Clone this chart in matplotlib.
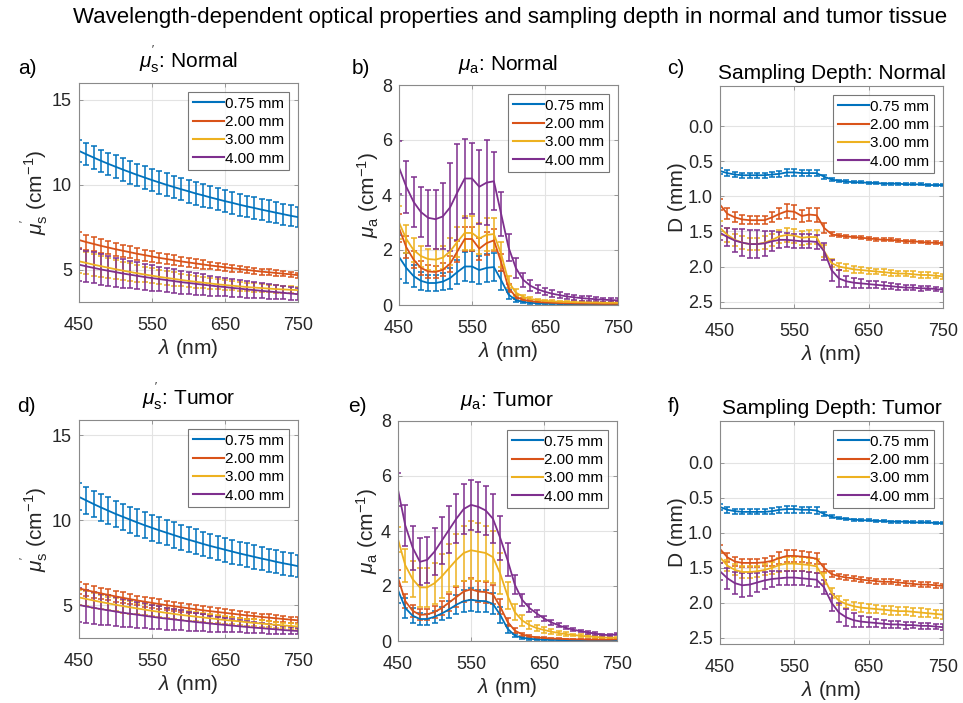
import matplotlib
matplotlib.use('Agg')
import matplotlib.pyplot as plt
from matplotlib.lines import Line2D

plt.rcParams['font.family'] = ['Liberation Sans', 'DejaVu Sans']
plt.rcParams['mathtext.fontset'] = 'custom'
plt.rcParams['mathtext.rm'] = 'Liberation Sans'
plt.rcParams['mathtext.it'] = 'Liberation Sans:italic'
plt.rcParams['mathtext.bf'] = 'Liberation Sans:bold'

# ---------------- data ----------------
wavelength = [450, 460, 470, 480, 490, 500, 510, 520, 530, 540, 550, 560, 570, 580, 590, 600,
              610, 620, 630, 640, 650, 660, 670, 680, 690, 700, 710, 720, 730, 740, 750]
series_labels = ['0.75 mm', '2.00 mm', '3.00 mm', '4.00 mm']
series_colors = ['#0072BD', '#D95319', '#EDB120', '#7E2F8E']

# a) mu_s' normal
musp_n_075 = [12.00, 11.80, 11.61, 11.42, 11.24, 11.07, 10.90, 10.74, 10.58, 10.43, 10.28, 10.14, 10.00, 9.87, 9.74, 9.62,
              9.49, 9.38, 9.26, 9.15, 9.04, 8.94, 8.83, 8.73, 8.64, 8.54, 8.45, 8.36, 8.27, 8.18, 8.10]
musp_n_075_sd = [0.64, 0.64, 0.65, 0.65, 0.66, 0.66, 0.66, 0.67, 0.67, 0.67, 0.67, 0.67, 0.67, 0.67, 0.66, 0.66,
                 0.66, 0.66, 0.65, 0.65, 0.65, 0.64, 0.64, 0.64, 0.63, 0.63, 0.63, 0.62, 0.62, 0.62, 0.61]
musp_n_200 = [6.75, 6.63, 6.52, 6.41, 6.31, 6.21, 6.12, 6.03, 5.94, 5.86, 5.78, 5.70, 5.63, 5.56, 5.49, 5.43,
              5.37, 5.31, 5.25, 5.20, 5.14, 5.09, 5.04, 4.99, 4.94, 4.89, 4.85, 4.81, 4.77, 4.73, 4.68]
musp_n_200_sd = [0.45, 0.44, 0.42, 0.41, 0.39, 0.38, 0.36, 0.35, 0.34, 0.33, 0.31, 0.30, 0.29, 0.28, 0.27, 0.26,
                 0.25, 0.24, 0.23, 0.22, 0.21, 0.21, 0.20, 0.19, 0.18, 0.18, 0.17, 0.17, 0.16, 0.16, 0.15]
musp_n_300 = [5.50, 5.40, 5.30, 5.21, 5.12, 5.03, 4.95, 4.87, 4.79, 4.72, 4.65, 4.58, 4.52, 4.46, 4.40, 4.34,
              4.29, 4.24, 4.19, 4.14, 4.10, 4.06, 4.02, 3.98, 3.95, 3.92, 3.89, 3.86, 3.84, 3.82, 3.80]
musp_n_300_sd = [0.70, 0.67, 0.64, 0.61, 0.58, 0.56, 0.53, 0.51, 0.49, 0.47, 0.45, 0.43, 0.41, 0.39, 0.37, 0.36,
                 0.34, 0.33, 0.31, 0.30, 0.29, 0.28, 0.27, 0.26, 0.25, 0.24, 0.23, 0.22, 0.21, 0.21, 0.20]
musp_n_400 = [5.30, 5.20, 5.11, 5.02, 4.94, 4.86, 4.78, 4.71, 4.64, 4.57, 4.51, 4.45, 4.39, 4.33, 4.27, 4.22,
              4.17, 4.12, 4.07, 4.02, 3.98, 3.93, 3.89, 3.84, 3.80, 3.76, 3.72, 3.68, 3.64, 3.60, 3.56]
musp_n_400_sd = [0.95, 0.93, 0.91, 0.89, 0.87, 0.85, 0.83, 0.81, 0.79, 0.77, 0.75, 0.73, 0.71, 0.69, 0.67, 0.65,
                 0.63, 0.61, 0.59, 0.57, 0.55, 0.53, 0.51, 0.49, 0.47, 0.45, 0.43, 0.41, 0.39, 0.37, 0.35]

# b) mu_a normal
mua_n_075 = [1.75, 1.35, 1.05, 0.88, 0.80, 0.80, 0.85, 0.98, 1.20, 1.40, 1.40, 1.27, 1.35, 1.38, 0.90, 0.38,
             0.18, 0.11, 0.08, 0.06, 0.05, 0.045, 0.04, 0.035, 0.03, 0.03, 0.025, 0.025, 0.02, 0.02, 0.02]
mua_n_075_sd = [0.80, 0.55, 0.40, 0.33, 0.30, 0.30, 0.32, 0.38, 0.45, 0.52, 0.55, 0.50, 0.52, 0.50, 0.35, 0.15,
                0.07, 0.04, 0.03, 0.02, 0.02, 0.02, 0.02, 0.015, 0.015, 0.015, 0.015, 0.015, 0.015, 0.015, 0.015]
mua_n_200 = [2.80, 2.10, 1.65, 1.35, 1.22, 1.20, 1.28, 1.50, 1.95, 2.40, 2.40, 2.05, 2.25, 2.35, 1.55, 0.62,
             0.30, 0.19, 0.14, 0.11, 0.09, 0.08, 0.07, 0.06, 0.055, 0.05, 0.05, 0.045, 0.04, 0.04, 0.04]
mua_n_200_sd = [0.50, 0.40, 0.32, 0.26, 0.23, 0.22, 0.24, 0.30, 0.38, 0.45, 0.45, 0.40, 0.42, 0.40, 0.30, 0.15,
                0.08, 0.05, 0.04, 0.03, 0.03, 0.02, 0.02, 0.02, 0.02, 0.02, 0.02, 0.02, 0.02, 0.02, 0.02]
mua_n_300 = [3.00, 2.40, 2.00, 1.78, 1.67, 1.65, 1.72, 1.95, 2.30, 2.62, 2.62, 2.42, 2.55, 2.58, 1.85, 0.85,
             0.45, 0.30, 0.22, 0.18, 0.15, 0.13, 0.12, 0.11, 0.10, 0.10, 0.09, 0.09, 0.08, 0.08, 0.08]
mua_n_300_sd = [0.60, 0.50, 0.42, 0.38, 0.38, 0.40, 0.42, 0.48, 0.55, 0.62, 0.62, 0.58, 0.60, 0.58, 0.45, 0.22,
                0.12, 0.08, 0.06, 0.05, 0.04, 0.04, 0.04, 0.03, 0.03, 0.03, 0.03, 0.03, 0.03, 0.03, 0.03]
mua_n_400 = [5.00, 4.30, 3.75, 3.38, 3.17, 3.12, 3.22, 3.55, 4.10, 4.60, 4.60, 4.30, 4.45, 4.50, 3.30, 2.10,
             1.35, 0.92, 0.70, 0.57, 0.48, 0.41, 0.36, 0.31, 0.28, 0.25, 0.23, 0.21, 0.19, 0.18, 0.17]
mua_n_400_sd = [0.95, 0.95, 0.90, 0.92, 1.02, 1.08, 1.20, 1.60, 1.75, 1.45, 1.30, 1.35, 1.55, 1.05, 0.80, 0.50,
                0.35, 0.25, 0.20, 0.15, 0.13, 0.12, 0.11, 0.10, 0.09, 0.09, 0.08, 0.08, 0.07, 0.07, 0.07]

# c) sampling depth normal
depth_n_075 = [0.64, 0.67, 0.69, 0.70, 0.70, 0.70, 0.70, 0.69, 0.68, 0.66, 0.66, 0.67, 0.67, 0.67, 0.72, 0.76,
               0.78, 0.79, 0.80, 0.80, 0.81, 0.81, 0.82, 0.82, 0.82, 0.83, 0.83, 0.83, 0.84, 0.84, 0.84]
depth_n_075_sd = [0.04, 0.04, 0.035, 0.035, 0.035, 0.035, 0.035, 0.04, 0.045, 0.05, 0.05, 0.045, 0.045, 0.045, 0.03, 0.02,
                  0.015, 0.015, 0.015, 0.015, 0.015, 0.015, 0.015, 0.015, 0.015, 0.015, 0.015, 0.015, 0.015, 0.015, 0.015]
depth_n_200 = [1.12, 1.25, 1.30, 1.33, 1.34, 1.34, 1.34, 1.30, 1.25, 1.21, 1.22, 1.28, 1.26, 1.27, 1.45, 1.54,
               1.56, 1.57, 1.58, 1.59, 1.60, 1.61, 1.62, 1.62, 1.63, 1.64, 1.64, 1.65, 1.66, 1.66, 1.67]
depth_n_200_sd = [0.08, 0.08, 0.07, 0.06, 0.06, 0.06, 0.06, 0.07, 0.08, 0.10, 0.10, 0.09, 0.09, 0.10, 0.07, 0.03,
                  0.02, 0.02, 0.02, 0.02, 0.02, 0.02, 0.02, 0.02, 0.02, 0.02, 0.02, 0.02, 0.02, 0.02, 0.02]
depth_n_300 = [1.45, 1.55, 1.62, 1.66, 1.68, 1.68, 1.66, 1.62, 1.57, 1.55, 1.56, 1.59, 1.58, 1.58, 1.78, 1.95,
               2.00, 2.02, 2.04, 2.05, 2.06, 2.07, 2.08, 2.09, 2.10, 2.10, 2.11, 2.12, 2.12, 2.13, 2.14]
depth_n_300_sd = [0.10, 0.10, 0.09, 0.09, 0.09, 0.09, 0.09, 0.09, 0.09, 0.10, 0.10, 0.10, 0.10, 0.10, 0.08, 0.06,
                  0.05, 0.05, 0.05, 0.045, 0.045, 0.04, 0.04, 0.04, 0.04, 0.04, 0.04, 0.04, 0.04, 0.04, 0.04]
depth_n_400 = [1.52, 1.58, 1.63, 1.66, 1.68, 1.68, 1.67, 1.64, 1.62, 1.62, 1.63, 1.64, 1.64, 1.65, 1.78, 2.05,
               2.17, 2.21, 2.23, 2.24, 2.25, 2.26, 2.27, 2.28, 2.29, 2.30, 2.30, 2.31, 2.31, 2.32, 2.33]
depth_n_400_sd = [0.10, 0.13, 0.16, 0.19, 0.20, 0.20, 0.18, 0.14, 0.11, 0.10, 0.10, 0.10, 0.10, 0.10, 0.12, 0.15,
                  0.12, 0.08, 0.07, 0.06, 0.05, 0.05, 0.05, 0.04, 0.04, 0.04, 0.04, 0.04, 0.03, 0.03, 0.03]

# d) mu_s' tumor
musp_t_075 = [11.37, 11.16, 10.95, 10.75, 10.56, 10.37, 10.20, 10.03, 9.86, 9.70, 9.55, 9.40, 9.26, 9.12, 8.98, 8.85,
              8.73, 8.60, 8.48, 8.37, 8.26, 8.15, 8.04, 7.94, 7.84, 7.74, 7.65, 7.55, 7.46, 7.38, 7.29]
musp_t_075_sd = [0.80, 0.80, 0.79, 0.79, 0.78, 0.78, 0.78, 0.77, 0.77, 0.77, 0.76, 0.76, 0.75, 0.75, 0.74, 0.74,
                 0.73, 0.73, 0.72, 0.72, 0.71, 0.71, 0.70, 0.70, 0.69, 0.69, 0.68, 0.67, 0.67, 0.66, 0.65]
musp_t_200 = [5.98, 5.88, 5.78, 5.69, 5.60, 5.51, 5.43, 5.35, 5.27, 5.20, 5.13, 5.06, 4.99, 4.93, 4.87, 4.81,
              4.75, 4.69, 4.64, 4.59, 4.54, 4.49, 4.44, 4.39, 4.35, 4.30, 4.26, 4.22, 4.18, 4.14, 4.10]
musp_t_200_sd = [0.35, 0.34, 0.34, 0.33, 0.32, 0.31, 0.31, 0.30, 0.29, 0.29, 0.28, 0.27, 0.27, 0.26, 0.25, 0.25,
                 0.24, 0.24, 0.23, 0.23, 0.22, 0.22, 0.21, 0.21, 0.20, 0.20, 0.19, 0.19, 0.19, 0.18, 0.18]
musp_t_300 = [5.45, 5.36, 5.27, 5.18, 5.10, 5.02, 4.94, 4.87, 4.80, 4.73, 4.66, 4.60, 4.54, 4.48, 4.42, 4.37,
              4.32, 4.27, 4.22, 4.17, 4.12, 4.08, 4.04, 3.99, 3.95, 3.91, 3.87, 3.84, 3.80, 3.77, 3.73]
musp_t_300_sd = [0.45, 0.44, 0.43, 0.41, 0.40, 0.39, 0.38, 0.37, 0.35, 0.34, 0.33, 0.32, 0.31, 0.30, 0.29, 0.28,
                 0.27, 0.26, 0.25, 0.24, 0.23, 0.22, 0.21, 0.20, 0.20, 0.19, 0.18, 0.17, 0.17, 0.16, 0.15]
musp_t_400 = [5.00, 4.92, 4.84, 4.76, 4.69, 4.62, 4.55, 4.49, 4.43, 4.37, 4.31, 4.25, 4.20, 4.15, 4.10, 4.05,
              4.00, 3.96, 3.91, 3.87, 3.83, 3.79, 3.75, 3.71, 3.67, 3.64, 3.60, 3.57, 3.53, 3.50, 3.47]
musp_t_400_sd = [1.00, 0.98, 0.95, 0.92, 0.89, 0.86, 0.83, 0.80, 0.77, 0.74, 0.71, 0.68, 0.65, 0.62, 0.59, 0.56,
                 0.53, 0.50, 0.47, 0.44, 0.41, 0.38, 0.36, 0.34, 0.32, 0.30, 0.28, 0.26, 0.24, 0.22, 0.20]

# e) mu_a tumor
mua_t_075 = [1.85, 1.20, 0.92, 0.80, 0.80, 0.88, 1.00, 1.15, 1.32, 1.45, 1.50, 1.46, 1.45, 1.35, 0.95, 0.45,
             0.20, 0.12, 0.08, 0.06, 0.05, 0.04, 0.035, 0.03, 0.03, 0.025, 0.025, 0.02, 0.02, 0.02, 0.02]
mua_t_075_sd = [0.45, 0.35, 0.28, 0.22, 0.20, 0.22, 0.25, 0.30, 0.35, 0.40, 0.42, 0.40, 0.40, 0.38, 0.30, 0.15,
                0.07, 0.04, 0.03, 0.02, 0.02, 0.02, 0.02, 0.02, 0.02, 0.02, 0.02, 0.02, 0.02, 0.02, 0.02]
mua_t_200 = [2.30, 1.45, 1.10, 0.95, 0.97, 1.05, 1.20, 1.40, 1.60, 1.80, 1.88, 1.80, 1.78, 1.70, 1.25, 0.70,
             0.38, 0.24, 0.17, 0.13, 0.11, 0.09, 0.08, 0.07, 0.06, 0.06, 0.05, 0.05, 0.05, 0.05, 0.06]
mua_t_200_sd = [0.30, 0.25, 0.22, 0.20, 0.20, 0.22, 0.25, 0.30, 0.35, 0.38, 0.40, 0.38, 0.38, 0.35, 0.28, 0.15,
                0.08, 0.05, 0.04, 0.03, 0.03, 0.02, 0.02, 0.02, 0.02, 0.02, 0.02, 0.02, 0.02, 0.02, 0.02]
mua_t_300 = [3.70, 2.75, 2.25, 1.95, 1.95, 2.10, 2.35, 2.65, 2.95, 3.20, 3.30, 3.25, 3.20, 3.05, 2.45, 1.65,
             1.05, 0.75, 0.58, 0.47, 0.40, 0.34, 0.29, 0.25, 0.22, 0.19, 0.17, 0.15, 0.13, 0.12, 0.12]
mua_t_300_sd = [0.45, 0.60, 0.65, 0.70, 0.72, 0.75, 0.80, 0.88, 0.95, 1.00, 1.05, 1.05, 1.00, 0.95, 0.75, 0.50,
                0.30, 0.20, 0.15, 0.12, 0.10, 0.08, 0.07, 0.06, 0.05, 0.05, 0.04, 0.04, 0.04, 0.03, 0.03]
mua_t_400 = [5.50, 4.20, 3.40, 2.88, 2.95, 3.25, 3.65, 4.05, 4.45, 4.80, 4.95, 4.88, 4.75, 4.45, 3.75, 2.95,
             2.05, 1.50, 1.20, 1.00, 0.82, 0.68, 0.57, 0.48, 0.41, 0.36, 0.31, 0.27, 0.23, 0.21, 0.25]
mua_t_400_sd = [0.60, 0.75, 0.80, 0.85, 0.85, 0.85, 0.85, 0.85, 0.90, 0.92, 0.92, 0.90, 0.90, 0.90, 0.80, 0.60,
                0.35, 0.22, 0.15, 0.12, 0.10, 0.08, 0.07, 0.06, 0.06, 0.05, 0.05, 0.05, 0.04, 0.04, 0.04]

# f) sampling depth tumor
depth_t_075 = [0.63, 0.67, 0.69, 0.70, 0.70, 0.70, 0.70, 0.69, 0.67, 0.66, 0.66, 0.67, 0.67, 0.68, 0.73, 0.77,
               0.79, 0.80, 0.81, 0.82, 0.82, 0.83, 0.83, 0.84, 0.84, 0.84, 0.85, 0.85, 0.85, 0.86, 0.86]
depth_t_075_sd = [0.04, 0.04, 0.035, 0.035, 0.035, 0.035, 0.035, 0.04, 0.045, 0.05, 0.05, 0.045, 0.045, 0.045, 0.03, 0.02,
                  0.015, 0.015, 0.015, 0.015, 0.015, 0.015, 0.015, 0.015, 0.015, 0.015, 0.015, 0.015, 0.015, 0.015, 0.015]
depth_t_200 = [1.23, 1.35, 1.41, 1.43, 1.43, 1.43, 1.42, 1.40, 1.36, 1.33, 1.33, 1.34, 1.35, 1.37, 1.50, 1.59,
               1.62, 1.64, 1.65, 1.67, 1.68, 1.69, 1.70, 1.70, 1.71, 1.72, 1.73, 1.74, 1.74, 1.75, 1.76]
depth_t_200_sd = [0.06, 0.06, 0.06, 0.06, 0.06, 0.06, 0.06, 0.07, 0.08, 0.08, 0.08, 0.08, 0.08, 0.08, 0.06, 0.04,
                  0.035, 0.035, 0.035, 0.035, 0.035, 0.035, 0.035, 0.035, 0.035, 0.035, 0.035, 0.035, 0.035, 0.035, 0.035]
depth_t_300 = [1.35, 1.47, 1.53, 1.56, 1.56, 1.55, 1.53, 1.50, 1.46, 1.44, 1.44, 1.45, 1.46, 1.48, 1.65, 1.86,
               1.97, 2.02, 2.05, 2.07, 2.08, 2.09, 2.10, 2.11, 2.12, 2.12, 2.13, 2.14, 2.15, 2.16, 2.17]
depth_t_300_sd = [0.08, 0.08, 0.08, 0.08, 0.08, 0.08, 0.08, 0.09, 0.10, 0.10, 0.10, 0.10, 0.10, 0.10, 0.08, 0.07,
                  0.06, 0.06, 0.06, 0.06, 0.06, 0.06, 0.06, 0.06, 0.06, 0.06, 0.06, 0.06, 0.06, 0.06, 0.06]
depth_t_400 = [1.55, 1.65, 1.72, 1.75, 1.74, 1.71, 1.68, 1.66, 1.65, 1.64, 1.64, 1.65, 1.66, 1.67, 1.78, 2.00,
               2.14, 2.21, 2.25, 2.27, 2.28, 2.29, 2.30, 2.31, 2.31, 2.32, 2.32, 2.33, 2.33, 2.34, 2.35]
depth_t_400_sd = [0.12, 0.15, 0.16, 0.17, 0.16, 0.14, 0.12, 0.11, 0.10, 0.10, 0.10, 0.10, 0.10, 0.10, 0.10, 0.12,
                  0.14, 0.12, 0.10, 0.08, 0.07, 0.06, 0.06, 0.05, 0.05, 0.05, 0.04, 0.04, 0.04, 0.04, 0.04]

x_ticks = [450, 550, 650, 750]
musp_yticks = [5, 10, 15]
mua_yticks = [0, 2, 4, 6, 8]
depth_yticks = [0.0, 0.5, 1.0, 1.5, 2.0, 2.5]
depth_yticklabels = ['0.0', '0.5', '1.0', '1.5', '2.0', '2.5']

MUSP = r"$\mu_{\mathrm{s}}^{'}$"
MUA = r"$\mu_{\mathrm{a}}$"

# ---------------- figure ----------------
W, H = 963, 703
fig = plt.figure(figsize=(W / 100, H / 100), dpi=100)


def rect(l, t, r, b):
    return [l / W, 1 - b / H, (r - l) / W, (b - t) / H]


panels = [
    dict(box=(79, 83, 298, 302), letter='a)', lpos=(18, 68), title=MUSP + ': Normal', tpad=11,
         ylabel=MUSP + r' (cm$^{-1}$)',
         ylim=(3.1, 16.0), yticks=musp_yticks, yticklabels=None,
         means=[musp_n_075, musp_n_200, musp_n_300, musp_n_400],
         sds=[musp_n_075_sd, musp_n_200_sd, musp_n_300_sd, musp_n_400_sd]),
    dict(box=(399, 85, 618, 305), letter='b)', lpos=(352, 68), title=MUA + ': Normal', tpad=11,
         ylabel=MUA + r' (cm$^{-1}$)',
         ylim=(0, 8), yticks=mua_yticks, yticklabels=None,
         means=[mua_n_075, mua_n_200, mua_n_300, mua_n_400],
         sds=[mua_n_075_sd, mua_n_200_sd, mua_n_300_sd, mua_n_400_sd]),
    dict(box=(720, 86, 943, 308), letter='c)', lpos=(667, 68), title='Sampling Depth: Normal', tpad=5,
         ylabel='D (mm)',
         ylim=(2.59, -0.57), yticks=depth_yticks, yticklabels=depth_yticklabels,
         means=[depth_n_075, depth_n_200, depth_n_300, depth_n_400],
         sds=[depth_n_075_sd, depth_n_200_sd, depth_n_300_sd, depth_n_400_sd]),
    dict(box=(79, 420, 298, 638), letter='d)', lpos=(17, 407), title=MUSP + ': Tumor', tpad=11,
         ylabel=MUSP + r' (cm$^{-1}$)',
         ylim=(3.06, 15.9), yticks=musp_yticks, yticklabels=None,
         means=[musp_t_075, musp_t_200, musp_t_300, musp_t_400],
         sds=[musp_t_075_sd, musp_t_200_sd, musp_t_300_sd, musp_t_400_sd]),
    dict(box=(398, 421, 617, 641), letter='e)', lpos=(348, 407), title=MUA + ': Tumor', tpad=11,
         ylabel=MUA + r' (cm$^{-1}$)',
         ylim=(0, 8), yticks=mua_yticks, yticklabels=None,
         means=[mua_t_075, mua_t_200, mua_t_300, mua_t_400],
         sds=[mua_t_075_sd, mua_t_200_sd, mua_t_300_sd, mua_t_400_sd]),
    dict(box=(720, 421, 943, 644), letter='f)', lpos=(668, 407), title='Sampling Depth: Tumor', tpad=5,
         ylabel='D (mm)',
         ylim=(2.59, -0.6), yticks=depth_yticks, yticklabels=depth_yticklabels,
         means=[depth_t_075, depth_t_200, depth_t_300, depth_t_400],
         sds=[depth_t_075_sd, depth_t_200_sd, depth_t_300_sd, depth_t_400_sd]),
]

edge_grey = '#8a8a8a'
txt = '#262626'
for p in panels:
    l, t, r, b = p['box']
    ax = fig.add_axes(rect(l, t, r, b))
    for m, s, c in zip(p['means'], p['sds'], series_colors):
        ax.errorbar(wavelength, m, yerr=s, color=c, lw=1.3, elinewidth=1.1,
                    capsize=2.2, capthick=1.1)
    ax.set_xlim(450, 750)
    ax.set_ylim(*p['ylim'])
    ax.set_xticks(x_ticks)
    ax.set_yticks(p['yticks'])
    if p['yticklabels'] is not None:
        ax.set_yticklabels(p['yticklabels'])
    ax.grid(True, color='#e3e3e3', lw=0.8)
    ax.set_axisbelow(True)
    for sp in ax.spines.values():
        sp.set_color(edge_grey)
        sp.set_linewidth(0.8)
    ax.tick_params(direction='in', length=3, width=0.6, color=edge_grey,
                   labelsize=13, labelcolor=txt, top=True, right=True)
    ax.tick_params(axis='x', pad=11)
    ax.tick_params(axis='y', pad=5)
    ax.set_xlabel(r'$\lambda$ (nm)', fontsize=15, color=txt, labelpad=2)
    ax.set_ylabel(p['ylabel'], fontsize=15, color=txt, labelpad=1)
    ax.set_title(p['title'], fontsize=15, color='black', pad=p['tpad'])
    handles = [Line2D([], [], color=c, lw=1.5) for c in series_colors]
    leg = ax.legend(handles, series_labels, loc='upper right', fontsize=11, handlelength=2.0,
                    handletextpad=0.1, borderpad=0.3, labelspacing=0.28, borderaxespad=0.6,
                    frameon=True, fancybox=False)
    leg.get_frame().set_edgecolor('#555555')
    leg.get_frame().set_linewidth(0.8)
    fig.text(p['lpos'][0] / W, 1 - p['lpos'][1] / H, p['letter'], fontsize=15,
             ha='left', va='center')

fig.suptitle('Wavelength-dependent optical properties and sampling depth in normal and tumor tissue',
             x=510 / W, y=1 - 18 / H, fontsize=16, va='center')

fig.savefig('out.png', dpi=100, facecolor='white')
